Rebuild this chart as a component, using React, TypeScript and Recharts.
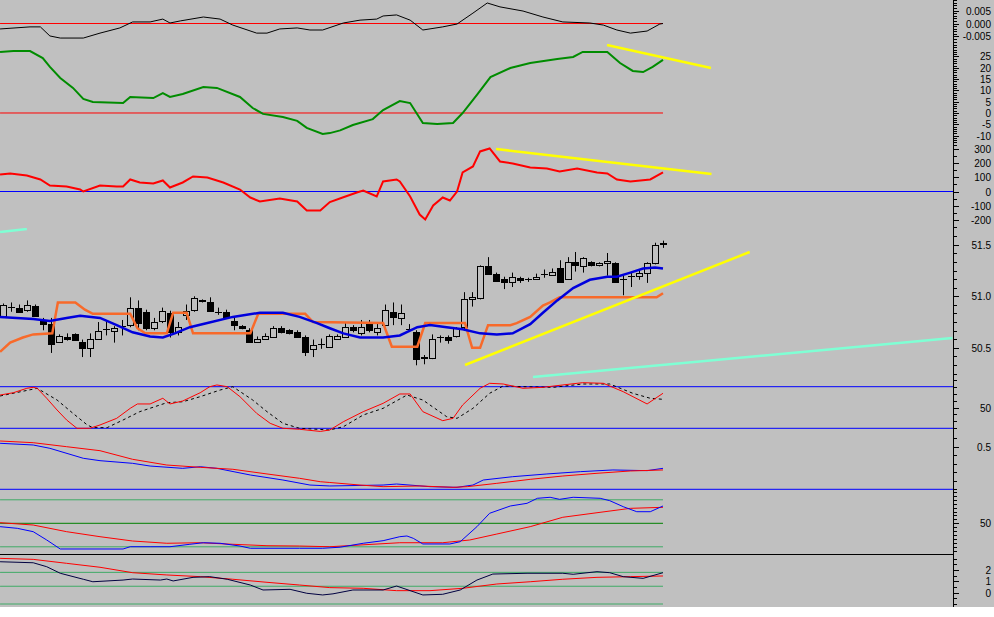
import React from 'react';
import { ComposedChart, Line, Bar, XAxis, YAxis, ReferenceLine } from 'recharts';

const BG = '#c0c0c0';
const X_DOMAIN: [number, number] = [-0.377, 119.47];
const LAST = 83;
const AXIS_X = 953;

type Pair = [number, number];

// price candles, one per bar
const OPEN = [
  50.81, 50.90, 50.89, 50.87, 50.91, 50.77, 50.73, 50.56, 50.60, 50.63,
  50.56, 50.50, 50.59, 50.68, 50.66, 50.71, 50.72, 50.89, 50.85, 50.69,
  50.76, 50.84, 50.65, 50.82, 50.87, 50.96, 50.94, 50.85, 50.85, 50.76,
  50.71, 50.67, 50.56, 50.59, 50.60, 50.69, 50.67, 50.65, 50.60, 50.49,
  50.54, 50.51, 50.59, 50.60, 50.70, 50.64, 50.74, 50.65, 50.72, 50.85,
  50.79, 50.68, 50.65, 50.40, 50.40, 50.60, 50.60, 50.61, 50.70, 50.97,
  50.98, 51.29, 51.22, 51.17, 51.14, 51.18, 51.17, 51.17, 51.22, 51.21,
  51.27, 51.17, 51.33, 51.29, 51.33, 51.30, 51.32, 51.32, 51.17, 51.20,
  51.20, 51.23, 51.32, 51.51,
];
const HIGH = [
  50.93, 50.94, 50.92, 50.96, 50.92, 50.79, 50.79, 50.63, 50.64, 50.64,
  50.58, 50.64, 50.75, 50.75, 50.71, 50.77, 50.99, 50.96, 50.87, 50.79,
  50.89, 50.86, 50.75, 50.92, 51.00, 50.97, 50.99, 50.89, 50.87, 50.79,
  50.72, 50.69, 50.61, 50.64, 50.71, 50.71, 50.68, 50.67, 50.62, 50.58,
  50.59, 50.63, 50.63, 50.74, 50.72, 50.77, 50.77, 50.75, 50.92, 50.94,
  50.92, 50.73, 50.67, 50.43, 50.63, 50.62, 50.62, 50.70, 51.04, 51.04,
  51.30, 51.38, 51.23, 51.19, 51.23, 51.19, 51.18, 51.22, 51.26, 51.27,
  51.35, 51.38, 51.43, 51.38, 51.34, 51.33, 51.42, 51.33, 51.21, 51.23,
  51.26, 51.33, 51.52, 51.54,
];
const LOW = [
  50.80, 50.85, 50.84, 50.85, 50.80, 50.67, 50.45, 50.55, 50.57, 50.57,
  50.41, 50.41, 50.58, 50.62, 50.55, 50.62, 50.70, 50.67, 50.67, 50.67,
  50.74, 50.60, 50.62, 50.77, 50.85, 50.94, 50.85, 50.82, 50.79, 50.67,
  50.68, 50.55, 50.55, 50.58, 50.60, 50.64, 50.63, 50.60, 50.42, 50.41,
  50.49, 50.50, 50.58, 50.60, 50.65, 50.62, 50.65, 50.62, 50.71, 50.72,
  50.72, 50.66, 50.33, 50.34, 50.39, 50.55, 50.54, 50.60, 50.67, 50.90,
  50.97, 51.21, 51.14, 51.07, 51.09, 51.13, 51.14, 51.16, 51.18, 51.20,
  51.13, 51.16, 51.24, 51.23, 51.29, 51.29, 51.20, 51.13, 51.01, 51.09,
  51.16, 51.13, 51.31, 51.47,
];
const CLOSE = [
  50.92, 50.90, 50.85, 50.92, 50.81, 50.73, 50.54, 50.61, 50.59, 50.58,
  50.50, 50.59, 50.66, 50.68, 50.69, 50.71, 50.89, 50.74, 50.69, 50.75,
  50.86, 50.65, 50.70, 50.86, 50.98, 50.95, 50.86, 50.85, 50.80, 50.72,
  50.69, 50.56, 50.59, 50.61, 50.69, 50.65, 50.64, 50.60, 50.46, 50.53,
  50.54, 50.61, 50.61, 50.70, 50.67, 50.70, 50.67, 50.69, 50.87, 50.80,
  50.84, 50.68, 50.39, 50.41, 50.59, 50.60, 50.58, 50.69, 50.97, 50.99,
  51.29, 51.22, 51.15, 51.14, 51.19, 51.16, 51.17, 51.19, 51.22, 51.24,
  51.14, 51.33, 51.30, 51.37, 51.30, 51.32, 51.34, 51.14, 51.17, 51.20,
  51.23, 51.32, 51.50, 51.52,
];

// indicator lines as [bar, value]
const OSC_TOP: Pair[] = [
  [-0.37, -0.0021], [3.4, -0.0013], [4.7, -0.0013], [5.9, -0.0048], [7.2, -0.0056], [10.1, -0.0056],
  [12.2, -0.0037], [14.7, -0.0017], [16.3, 0.0006], [18.5, 0.0006], [20.1, 0.0017], [21.0, 0.0002],
  [22.3, 0.001], [25.2, 0.0025], [27.3, 0.0017], [28.9, -0.0006], [31.9, -0.0037], [33.2, -0.0037],
  [34.8, -0.0021], [37.0, -0.0017], [38.6, -0.0025], [40.2, -0.0025], [42.8, 0.0002], [44.9, 0.0013],
  [47.0, 0.0017], [47.8, 0.0029], [49.5, 0.0033], [51.2, 0.0013], [52.8, -0.0025], [55.3, -0.0013],
  [57.1, -0.0002], [59.1, 0.004], [60.9, 0.0079], [62.5, 0.0064], [65.4, 0.0048], [67.9, 0.0025],
  [70.4, 0.0006], [73.8, 0.0002], [75.5, -0.0006], [77.2, -0.0025], [78.9, -0.0037], [81.0, -0.0029],
  [82.6, -0.0002], [83, 0.0],
];
const TREND_GREEN: Pair[] = [
  [-0.37, 27.0], [1.3, 27.4], [3.4, 27.4], [5.0, 24.3], [5.9, 20.4], [7.2, 15.5], [8.8, 11.1],
  [10.1, 6.2], [11.3, 4.9], [15.1, 4.4], [16.0, 7.1], [18.9, 6.6], [20.1, 8.8], [21.0, 7.1],
  [22.6, 8.4], [25.2, 11.5], [26.9, 11.1], [29.8, 7.1], [31.4, 2.2], [32.7, -0.4], [35.2, -1.8],
  [37.0, -3.5], [38.2, -6.6], [40.2, -9.3], [41.1, -8.9], [42.4, -7.7], [44.0, -5.3], [46.5, -2.7],
  [47.8, 1.3], [49.9, 5.3], [51.2, 4.4], [52.8, -4.4], [54.6, -4.9], [56.6, -4.4], [57.8, 0.0],
  [59.6, 8.0], [61.3, 15.9], [63.8, 19.9], [66.3, 22.1], [69.7, 23.9], [71.7, 24.8], [72.9, 27.0],
  [74.7, 27.0], [76.0, 27.0], [77.6, 22.1], [79.2, 18.6], [80.5, 18.1], [81.7, 20.4], [83, 23.5],
];
const CCI_RED: Pair[] = [
  [-0.37, 119], [0.9, 126], [3.0, 112], [4.7, 84], [5.9, 42], [8.0, 35], [9.7, 14], [10.1, 0],
  [12.2, 42], [14.3, 35], [15.1, 35], [16.0, 84], [17.2, 63], [18.9, 56], [20.1, 77], [21.0, 28],
  [22.6, 63], [23.9, 105], [25.7, 98], [27.7, 63], [29.8, 14], [31.1, -42], [32.3, -70], [34.8, -49],
  [37.0, -70], [38.2, -133], [39.9, -133], [41.1, -74], [42.8, -40], [44.5, -7], [45.3, 7],
  [47.0, -35], [47.8, 70], [49.5, 84], [49.9, 70], [51.2, -35], [52.4, -161], [53.1, -196],
  [54.1, -98], [55.3, -42], [56.2, -63], [57.1, 0], [57.8, 133], [59.1, 175], [60.0, 280],
  [61.2, 301], [62.5, 210], [64.1, 196], [66.3, 168], [68.4, 161], [70.0, 140], [72.2, 161],
  [74.7, 133], [76.0, 126], [77.2, 84], [78.9, 70], [81.4, 84], [83, 133],
];
const MA_BLUE: Pair[] = [
  [-0.37, 50.80], [3.8, 50.78], [5.9, 50.76], [8.0, 50.79], [9.7, 50.81], [12.2, 50.79], [14.3, 50.72],
  [16.3, 50.65], [18.5, 50.61], [20.1, 50.60], [21.6, 50.64], [23.5, 50.70], [25.7, 50.74],
  [28.9, 50.80], [32.3, 50.84], [35.2, 50.84], [37.3, 50.80], [39.5, 50.74], [41.1, 50.69],
  [42.8, 50.64], [44.9, 50.60], [47.8, 50.60], [49.9, 50.62], [52.1, 50.70], [53.7, 50.72],
  [55.8, 50.70], [57.8, 50.68], [60.0, 50.64], [62.1, 50.63], [64.1, 50.64], [66.3, 50.73],
  [67.9, 50.84], [69.7, 50.96], [71.7, 51.08], [73.8, 51.16], [76.0, 51.19], [77.2, 51.19],
  [78.9, 51.23], [80.5, 51.27], [82.0, 51.28], [83, 51.27],
];
const STOP_ORANGE: Pair[] = [
  [-0.37, 50.46], [0.9, 50.55], [2.5, 50.60], [3.8, 50.63], [6.2, 50.64], [6.9, 50.94], [9.1, 50.94],
  [10.3, 50.87], [11.3, 50.83], [16.0, 50.83], [16.9, 50.69], [17.9, 50.64], [20.6, 50.64],
  [21.4, 50.84], [23.1, 50.84], [23.9, 50.64], [31.1, 50.64], [32.1, 50.83], [38.0, 50.83],
  [39.0, 50.75], [47.8, 50.74], [48.9, 50.51], [52.1, 50.51], [53.1, 50.74], [58.1, 50.74],
  [59.0, 50.50], [60.0, 50.50], [61.0, 50.72], [63.8, 50.72], [64.6, 50.74], [66.3, 50.80],
  [67.9, 50.91], [68.8, 50.94], [70.0, 50.99], [82.2, 50.99], [83, 51.03],
];
const STOCH_K: Pair[] = [
  [-0.37, 68.0], [1.3, 71.3], [3.0, 77.7], [3.8, 79.1], [4.3, 77.7], [5.5, 63.3], [6.8, 46.4],
  [8.0, 32.0], [9.3, 20.0], [10.9, 20.0], [12.2, 24.8], [14.3, 34.4], [16.0, 48.8], [16.9, 55.1],
  [18.5, 55.1], [20.1, 63.3], [21.0, 55.1], [22.6, 59.4], [24.8, 71.3], [26.0, 80.0], [26.9, 82.5],
  [28.2, 80.0], [29.8, 65.6], [31.9, 41.6], [33.6, 27.2], [35.2, 20.0], [37.3, 18.6], [39.9, 15.5],
  [41.1, 17.6], [42.8, 29.5], [45.3, 44.0], [47.8, 56.0], [49.9, 69.5], [51.2, 69.5], [52.8, 44.0],
  [55.3, 31.0], [56.6, 34.4], [57.8, 53.6], [60.0, 77.7], [61.2, 84.9], [62.9, 83.9], [65.4, 77.7],
  [67.9, 79.1], [70.4, 82.5], [72.9, 85.8], [75.5, 84.9], [78.0, 72.8], [81.0, 55.1], [83, 70.5],
];
const STOCH_D: Pair[] = [
  [-0.37, 66.6], [4.3, 77.7], [6.8, 60.8], [8.8, 41.6], [10.6, 24.8], [11.3, 21.0], [13.1, 21.0],
  [15.1, 32.0], [17.2, 44.0], [20.6, 56.9], [22.6, 58.3], [24.8, 65.6], [27.3, 75.2], [28.9, 80.0],
  [31.4, 60.8], [33.2, 44.0], [35.2, 27.2], [37.3, 20.0], [41.1, 17.6], [42.8, 22.3], [45.3, 39.2],
  [47.8, 48.8], [50.8, 68.0], [52.8, 60.8], [55.8, 36.7], [57.1, 34.4], [59.1, 48.8], [61.2, 70.5],
  [62.9, 81.0], [65.4, 80.0], [69.2, 79.1], [72.9, 83.9], [76.3, 83.9], [79.2, 70.5], [81.4, 63.3],
  [83, 61.8],
];
const MID_RED: Pair[] = [
  [-0.37, 0.567], [3.8, 0.547], [8.0, 0.5], [12.2, 0.453], [16.3, 0.352], [20.6, 0.285], [24.8, 0.258],
  [28.9, 0.235], [33.2, 0.18], [37.3, 0.129], [39.9, 0.089], [41.1, 0.08], [44.9, 0.05], [47.8, 0.031],
  [52.4, 0.039], [56.6, 0.023], [58.4, 0.031], [62.1, 0.07], [66.3, 0.117], [70.4, 0.156],
  [74.7, 0.188], [78.9, 0.215], [83, 0.227],
];
const MID_BLUE: Pair[] = [
  [-0.37, 0.54], [3.8, 0.52], [5.9, 0.481], [10.1, 0.364], [12.2, 0.336], [16.3, 0.305], [18.5, 0.273],
  [22.6, 0.246], [24.8, 0.265], [26.9, 0.246], [31.1, 0.168], [35.2, 0.109], [38.6, 0.05], [41.1, 0.039],
  [47.8, 0.05], [49.5, 0.062], [53.7, 0.031], [57.1, 0.023], [59.1, 0.05], [60.4, 0.109], [64.1, 0.148],
  [68.4, 0.18], [72.6, 0.207], [76.7, 0.227], [81.0, 0.219], [83, 0.246],
];
const RSI_BLUE: Pair[] = [
  [-0.37, 45.7], [1.8, 43.6], [3.8, 39.3], [5.5, 28.7], [7.2, 17.2], [12.2, 17.2], [15.1, 17.2],
  [16.0, 20.1], [18.5, 20.1], [21.0, 20.1], [23.5, 23.2], [25.2, 25.2], [27.3, 24.5], [29.8, 21.0],
  [31.1, 18.1], [37.3, 18.1], [40.2, 18.1], [42.4, 19.5], [45.3, 24.5], [47.8, 27.8], [49.9, 32.9],
  [50.8, 33.8], [51.6, 30.8], [52.8, 23.6], [56.2, 23.6], [57.5, 26.5], [59.6, 45.7], [61.2, 62.8],
  [63.8, 72.1], [65.9, 75.5], [67.2, 81.9], [68.8, 83.2], [70.0, 80.6], [71.7, 83.2], [75.1, 81.9],
  [76.3, 78.9], [78.0, 71.2], [79.7, 64.8], [81.4, 64.8], [83, 72.1],
];
const RSI_RED: Pair[] = [
  [-0.37, 50.8], [3.8, 47.8], [8.0, 39.3], [12.2, 32.9], [16.3, 27.4], [20.6, 24.5], [24.8, 25.2],
  [28.9, 23.2], [33.2, 21.4], [37.3, 21.0], [41.1, 20.1], [49.9, 25.2], [55.3, 25.2], [58.7, 28.7],
  [62.1, 36.3], [66.3, 45.7], [70.4, 57.7], [74.7, 63.5], [78.9, 69.1], [83, 70.4],
];
const LOW_DARK: Pair[] = [
  [-0.37, 2.74], [3.8, 2.65], [5.5, 2.3], [7.2, 1.72], [10.1, 1.19], [11.3, 0.97], [15.1, 1.12],
  [16.3, 1.21], [19.8, 1.12], [20.6, 1.21], [21.4, 1.04], [23.9, 1.36], [26.0, 1.42], [28.2, 1.19],
  [31.1, 0.68], [32.7, 0.24], [36.1, 0.3], [38.2, -0.05], [40.2, -0.2], [41.5, -0.1], [44.0, 0.24],
  [47.8, 0.24], [49.5, 0.59], [52.8, -0.2], [55.3, -0.14], [57.5, 0.24], [59.6, 1.12], [61.6, 1.65],
  [65.9, 1.72], [70.4, 1.72], [71.7, 1.63], [74.7, 1.86], [76.3, 1.77], [78.0, 1.42], [80.5, 1.27],
  [83, 1.77],
];
const LOW_RED: Pair[] = [
  [-0.37, 3.04], [3.8, 2.95], [8.0, 2.6], [12.2, 2.25], [16.3, 1.77], [20.6, 1.57], [24.8, 1.42],
  [28.9, 1.19], [33.2, 0.92], [37.3, 0.68], [41.1, 0.45], [45.3, 0.39], [49.5, 0.18], [53.7, 0.18],
  [57.8, 0.39], [62.1, 0.77], [66.3, 0.97], [70.4, 1.19], [74.7, 1.36], [78.9, 1.42], [83, 1.48],
];

// hand drawn trend lines, [bar, value] end points
const YELLOW_TREND: Pair[] = [[75.96, 30.09], [89.03, 19.91]];
const YELLOW_CCI: Pair[] = [[62.0, 297], [89.1, 122]];
const YELLOW_PRICE: Pair[] = [[58.1, 50.333], [93.9, 51.43]];
const CYAN_PRICE: Pair[] = [[66.65, 50.217], [119.4, 50.595]];
const CYAN_OLD: Pair[] = [[-0.37, 51.624], [3.0, 51.653]];

const STOCH_LEVELS = [80, 20];
const RSI_LEVELS = [80, 50, 20];
const LOW_LEVELS = [1.8, 0.57, -1.0];

const candles = OPEN.map((open, i) => ({ i, open, high: HIGH[i], low: LOW[i], close: CLOSE[i] }));
const pts = (a: Pair[]) => a.map(([i, v]) => ({ i, v }));
const seg = (a: Pair[]) => a.map(([x, y]) => ({ x, y }));
const flat = (y: number): Pair[] => [[-0.37, y], [LAST, y]];

const range = (a: number, b: number, s: number) => {
  const out: number[] = [];
  for (let k = 0; a + k * s <= b + 1e-9; k++) out.push(Number((a + k * s).toFixed(6)));
  return out;
};

// panel layout and right-hand scales
const P1 = { top: 0, height: 44, domain: [-0.00789, 0.00905], ticks: range(-0.007, 0.009, 0.001), majors: [0.005, 0, -0.005], digits: 3 };
const P2 = { top: 44, height: 101, domain: [-14.16, 30.53], ticks: range(-14, 30, 1), majors: [25, 20, 15, 10, 5, 0, -5, -10], digits: 0 };
const P3 = { top: 145, height: 83, domain: [-255.1, 325], ticks: range(-250, 300, 50), majors: [300, 200, 100, 0, -100, -200], digits: 0 };
const P4 = { top: 228, height: 151, domain: [50.197, 51.663], ticks: range(50.25, 51.6, 1 / 12), majors: [51.5, 51.0, 50.5], digits: 1 };
const P5 = { top: 379, height: 53, domain: [14.68, 91.1], ticks: range(20, 90, 10), majors: [50], digits: 0 };
const P6 = { top: 432, height: 58, domain: [-0.0082, 0.6725], ticks: range(0, 0.6, 0.1), majors: [0.5], digits: 1 };
const P7 = { top: 490, height: 64, domain: [10.81, 92.51], ticks: range(15, 90, 5), majors: [50], digits: 0 };
const P8 = { top: 554, height: 53, domain: [-1.265, 3.425], ticks: range(-1, 3, 0.5), majors: [2, 1, 0], digits: 0 };
const PANELS = [P1, P2, P3, P4, P5, P6, P7, P8];

const isMajor = (majors: number[], v: number) => majors.some((m) => Math.abs(m - v) < 1e-6);

function AxisLabel(props: any) {
  const { y, payload, majors, digits } = props;
  const v = payload.value;
  if (!isMajor(majors, v)) return null;
  return (
    <text x={AXIS_X + 38} y={y} dy={4} textAnchor="end" fontSize={10} fill="#000"
      fontFamily='"Liberation Sans", Arial, sans-serif'>
      {v.toFixed(digits)}
    </text>
  );
}

// tick comb along the price axis, same linear scale as the panel's YAxis
function TickComb({ top, height, domain, ticks, majors }: any) {
  const [lo, hi] = domain;
  return (
    <>
      {ticks.map((v: number) => (
        <div key={v} style={{
          position: 'absolute', left: AXIS_X, top: Math.round(top + ((hi - v) / (hi - lo)) * height),
          width: isMajor(majors, v) ? 6 : 4, height: 1, background: '#000',
        }} />
      ))}
    </>
  );
}

function Candle(props: any) {
  const { x, y, width, height, payload } = props;
  if (!payload || x == null) return null;
  const { open, close, high, low } = payload;
  const h = Math.abs(height);
  const k = high > low ? h / (high - low) : 0;
  const py = (v: number) => y + (high - v) * k;
  const cx = Math.round(x + width / 2) + 0.5;
  const top = Math.round(py(Math.max(open, close))) + 0.5;
  const bot = Math.round(py(Math.min(open, close))) + 0.5;
  return (
    <g>
      <line x1={cx} x2={cx} y1={y} y2={y + h} stroke="#000" />
      {Math.abs(close - open) < 0.005 ? (
        <line x1={cx - 3.5} x2={cx + 3.5} y1={top} y2={top} stroke="#000" />
      ) : (
        <rect x={cx - 3} y={top} width={6} height={Math.max(bot - top, 1)}
          fill={close > open ? BG : '#000'} stroke="#000" />
      )}
    </g>
  );
}

function series(arr: Pair[], stroke: string, width: number, dash?: string) {
  return (
    <Line data={pts(arr)} dataKey="v" type="linear" stroke={stroke} strokeWidth={width}
      strokeDasharray={dash} dot={false} activeDot={false} isAnimationActive={false} />
  );
}

function Panel(props: any) {
  const { top, height, domain, ticks, majors, digits, data, children } = props;
  return (
    <div style={{ position: 'absolute', left: 0, top, width: 994, height }}>
      <ComposedChart width={994} height={height} data={data} margin={{ top: 0, right: 0, bottom: 0, left: 0 }}>
        <XAxis type="number" dataKey="i" domain={X_DOMAIN} allowDataOverflow hide />
        <YAxis orientation="right" width={41} type="number" domain={domain} allowDataOverflow
          ticks={ticks} interval={0} tickLine={false} tickSize={0} tickMargin={0}
          axisLine={false} tick={<AxisLabel majors={majors} digits={digits} />} />
        {children}
      </ComposedChart>
    </div>
  );
}

export default function App() {
  return (
    <div style={{ position: 'fixed', left: 0, top: 0, width: 994, height: 617, background: '#fff', overflow: 'hidden' }}>
      <div style={{ position: 'absolute', left: 0, top: 0, width: 994, height: 607, background: BG }} />

      <Panel {...P1}>
        <ReferenceLine segment={seg(flat(0))} stroke="#ff0000" ifOverflow="visible" />
        {series(OSC_TOP, '#000', 1)}
      </Panel>

      <Panel {...P2}>
        <ReferenceLine segment={seg(flat(0))} stroke="#ff0000" ifOverflow="visible" />
        {series(TREND_GREEN, '#008c00', 2)}
        <ReferenceLine segment={seg(YELLOW_TREND)} stroke="#ffff00" strokeWidth={2.5} ifOverflow="visible" />
      </Panel>

      <Panel {...P3}>
        <ReferenceLine y={0} stroke="#0000ff" />
        {series(CCI_RED, '#ff0000', 2)}
        <ReferenceLine segment={seg(YELLOW_CCI)} stroke="#ffff00" strokeWidth={2.5} ifOverflow="visible" />
      </Panel>

      <Panel {...P4} data={candles}>
        <Bar dataKey={(d: any) => [d.low, d.high]} barSize={7} isAnimationActive={false}
          shape={(p: any) => <Candle {...p} />} />
        {series(STOP_ORANGE, '#f86a2a', 2.5)}
        {series(MA_BLUE, '#0000dd', 2.5)}
        <ReferenceLine segment={seg(YELLOW_PRICE)} stroke="#ffff00" strokeWidth={2.5} ifOverflow="visible" />
        <ReferenceLine segment={seg(CYAN_PRICE)} stroke="#7fffd4" strokeWidth={2.5} ifOverflow="visible" />
        <ReferenceLine segment={seg(CYAN_OLD)} stroke="#7fffd4" strokeWidth={2.5} ifOverflow="visible" />
      </Panel>

      <Panel {...P5}>
        {STOCH_LEVELS.map((lv) => <ReferenceLine key={lv} y={lv} stroke="#0000ff" />)}
        {series(STOCH_D, '#000', 1, '3 3')}
        {series(STOCH_K, '#ff0000', 1)}
      </Panel>

      <Panel {...P6}>
        <ReferenceLine y={0} stroke="#0000ff" />
        {series(MID_BLUE, '#0000ff', 1)}
        {series(MID_RED, '#ff0000', 1)}
      </Panel>

      <Panel {...P7}>
        {RSI_LEVELS.map((lv) => (
          <ReferenceLine key={lv} segment={seg(flat(lv))} stroke={lv === 50 ? '#008000' : '#3faa66'} ifOverflow="visible" />
        ))}
        {series(RSI_RED, '#ff0000', 1)}
        {series(RSI_BLUE, '#0000ff', 1)}
      </Panel>

      <Panel {...P8}>
        {LOW_LEVELS.map((lv) => (
          <ReferenceLine key={lv} segment={seg(flat(lv))} stroke="#3faa66" ifOverflow="visible" />
        ))}
        {series(LOW_RED, '#ff0000', 1)}
        {series(LOW_DARK, '#000040', 1)}
      </Panel>

      <div style={{ position: 'absolute', left: 0, top: 554, width: AXIS_X, height: 1, background: '#000' }} />
      <div style={{ position: 'absolute', left: AXIS_X, top: 0, width: 1, height: 607, background: '#000' }} />
      {PANELS.map((p) => <TickComb key={p.top} {...p} />)}
    </div>
  );
}
